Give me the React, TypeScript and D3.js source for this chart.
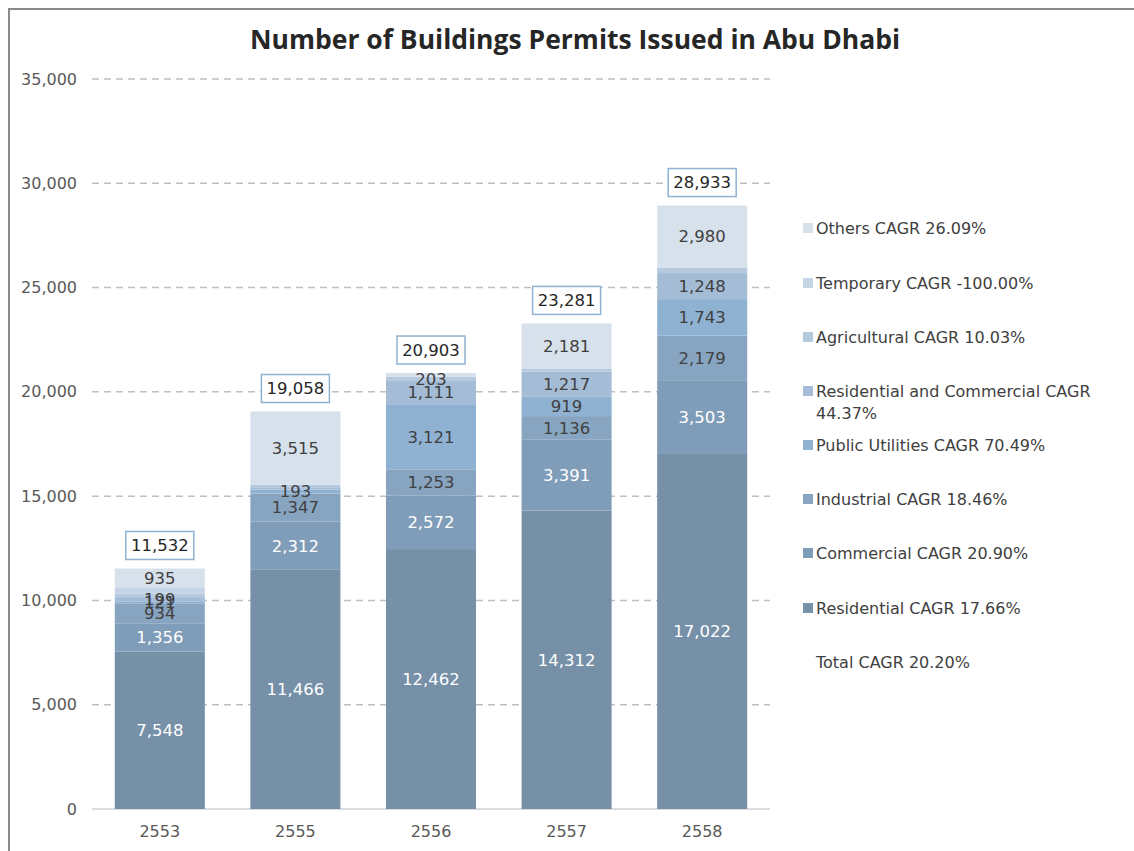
import React, { useEffect, useRef } from "react";
import * as d3 from "d3";

// years (Buddhist era) on the x axis
const years = ["2553", "2555", "2556", "2557", "2558"];

// series, bottom to top
const seriesNames = [
  "Residential",
  "Commercial",
  "Industrial",
  "Public Utilities",
  "Residential and Commercial",
  "Agricultural",
  "Temporary",
  "Others",
];

const residential = [7548, 11466, 12462, 14312, 17022];
const commercial = [1356, 2312, 2572, 3391, 3503];
const industrial = [934, 1347, 1253, 1136, 2179];
const publicUtilities = [121, 193, 3121, 919, 1743];
const resAndCom = [199, 70, 1111, 1217, 1248];
const agricultural = [160, 155, 203, 125, 258];
const temporary = [279, 0, 0, 0, 0];
const others = [935, 3515, 181, 2181, 2980];

const totals = [11532, 19058, 20903, 23281, 28933];

// which segment labels are printed in the original (by series, by year)
const labelShown = [
  [true, true, true, true, true],
  [true, true, true, true, true],
  [true, true, true, true, true],
  [true, true, true, true, true],
  [true, false, true, true, true],
  [false, false, true, false, false],
  [false, false, false, false, false],
  [true, true, false, true, true],
];

const legendLabels = [
  "Others CAGR 26.09%",
  "Temporary CAGR -100.00%",
  "Agricultural CAGR 10.03%",
  "Residential and Commercial CAGR|44.37%",
  "Public Utilities CAGR 70.49%",
  "Industrial CAGR 18.46%",
  "Commercial CAGR 20.90%",
  "Residential CAGR 17.66%",
];
const totalLabel = "Total CAGR 20.20%";

const yTicks = [0, 5000, 10000, 15000, 20000, 25000, 30000, 35000];

const colors = [
  "#7690a8",
  "#7f9cb8",
  "#87a5c1",
  "#8fb2d2",
  "#a4bcd6",
  "#b5c9df",
  "#c6d5e6",
  "#d7e1ec",
];
const labelColors = ["#fff", "#fff", "#404040", "#404040", "#404040", "#404040", "#404040", "#404040"];

const FONT = "'DejaVu Sans', sans-serif";
const TITLE_FONT = "'Open Sans', 'DejaVu Sans', sans-serif";

const App = () => {
  const ref = useRef<SVGSVGElement>(null);

  useEffect(() => {
    const svg = d3.select(ref.current);
    svg.selectAll("*").remove();

    const left = 92;
    const right = 770;
    const top = 79;
    const bottom = 809;

    // frame
    svg
      .append("rect")
      .attr("x", 9)
      .attr("y", 9)
      .attr("width", 1200)
      .attr("height", 900)
      .attr("fill", "#fff")
      .attr("stroke", "#8a8a8a")
      .attr("stroke-width", 2);

    svg
      .append("text")
      .attr("x", 575)
      .attr("y", 49)
      .attr("text-anchor", "middle")
      .style("font-family", TITLE_FONT)
      .style("font-weight", "bold")
      .style("font-size", "26.5px")
      .attr("fill", "#262626")
      .text("Number of Buildings Permits Issued in Abu Dhabi");

    const x = d3.scaleBand().domain(years).range([left, right]).paddingInner(0.336).paddingOuter(0.168);
    const y = d3.scaleLinear().domain([0, 35000]).range([bottom, top]);

    // gridlines
    svg
      .append("g")
      .selectAll("line")
      .data(yTicks.slice(1))
      .enter()
      .append("line")
      .attr("x1", left)
      .attr("x2", right)
      .attr("y1", (d) => y(d))
      .attr("y2", (d) => y(d))
      .attr("stroke", "#bfbfbf")
      .attr("stroke-width", 1.5)
      .attr("stroke-dasharray", "7,5");

    svg
      .append("line")
      .attr("x1", left)
      .attr("x2", right)
      .attr("y1", bottom)
      .attr("y2", bottom)
      .attr("stroke", "#d0d0d0")
      .attr("stroke-width", 1.5);

    svg
      .append("g")
      .selectAll("text")
      .data(yTicks)
      .enter()
      .append("text")
      .attr("x", 77)
      .attr("y", (d) => y(d))
      .attr("dy", "0.35em")
      .attr("text-anchor", "end")
      .style("font-family", FONT)
      .style("font-size", "16px")
      .attr("fill", "#595959")
      .text((d) => d3.format(",")(d));

    svg
      .append("g")
      .selectAll("text")
      .data(years)
      .enter()
      .append("text")
      .attr("x", (d) => x(d)! + x.bandwidth() / 2)
      .attr("y", 837)
      .attr("text-anchor", "middle")
      .style("font-family", FONT)
      .style("font-size", "16px")
      .attr("fill", "#595959")
      .text((d) => d);

    const table = years.map((yr, i) => {
      const row: any = { year: yr };
      row[seriesNames[0]] = residential[i];
      row[seriesNames[1]] = commercial[i];
      row[seriesNames[2]] = industrial[i];
      row[seriesNames[3]] = publicUtilities[i];
      row[seriesNames[4]] = resAndCom[i];
      row[seriesNames[5]] = agricultural[i];
      row[seriesNames[6]] = temporary[i];
      row[seriesNames[7]] = others[i];
      return row;
    });

    const stacked = d3.stack().keys(seriesNames)(table);

    const layers = svg
      .append("g")
      .selectAll("g")
      .data(stacked)
      .enter()
      .append("g")
      .attr("fill", (d, i) => colors[i]);

    layers
      .selectAll("rect")
      .data((d) => d)
      .enter()
      .append("rect")
      .attr("x", (d: any) => x(d.data.year)!)
      .attr("y", (d) => y(d[1]))
      .attr("width", x.bandwidth())
      .attr("height", (d) => y(d[0]) - y(d[1]));

    // segment labels
    stacked.forEach((layer, si) => {
      layer.forEach((d, yi) => {
        if (!labelShown[si][yi]) return;
        const v = d[1] - d[0];
        svg
          .append("text")
          .attr("x", x(years[yi])! + x.bandwidth() / 2)
          .attr("y", y((d[0] + d[1]) / 2))
          .attr("dy", "0.35em")
          .attr("text-anchor", "middle")
          .style("font-family", FONT)
          .style("font-size", "16.5px")
          .attr("fill", labelColors[si])
          .text(d3.format(",")(v));
      });
    });

    // total boxes
    totals.forEach((t, i) => {
      const cx = x(years[i])! + x.bandwidth() / 2;
      const cy = y(t) - 23;
      const g = svg.append("g");
      g.append("rect")
        .attr("x", cx - 34)
        .attr("y", cy - 14)
        .attr("width", 68)
        .attr("height", 28)
        .attr("fill", "#fff")
        .attr("stroke", "#8fb2d2")
        .attr("stroke-width", 1.5);
      g.append("text")
        .attr("x", cx)
        .attr("y", cy)
        .attr("dy", "0.35em")
        .attr("text-anchor", "middle")
        .style("font-family", FONT)
        .style("font-size", "16.5px")
        .attr("fill", "#262626")
        .text(d3.format(",")(t));
    });

    // legend
    const lg = svg.append("g");
    const legendY = [228, 283, 337, 391, 445, 499, 553, 608];
    legendLabels.forEach((lbl, i) => {
      const si = seriesNames.length - 1 - i;
      lg.append("rect")
        .attr("x", 803)
        .attr("y", legendY[i] - 5)
        .attr("width", 10)
        .attr("height", 10)
        .attr("fill", colors[si]);
      const parts = lbl.split("|");
      parts.forEach((p, pi) => {
        lg.append("text")
          .attr("x", 816)
          .attr("y", legendY[i] + pi * 22)
          .attr("dy", "0.35em")
          .style("font-family", FONT)
          .style("font-size", "16px")
          .attr("fill", "#404040")
          .text(p);
      });
    });
    lg.append("text")
      .attr("x", 816)
      .attr("y", 662)
      .attr("dy", "0.35em")
      .style("font-family", FONT)
      .style("font-size", "16px")
      .attr("fill", "#404040")
      .text(totalLabel);
  }, []);

  return (
    <svg
      ref={ref}
      width={1134}
      height={851}
      style={{ position: "absolute", left: 0, top: 0, background: "#fff" }}
    />
  );
};

export default App;
